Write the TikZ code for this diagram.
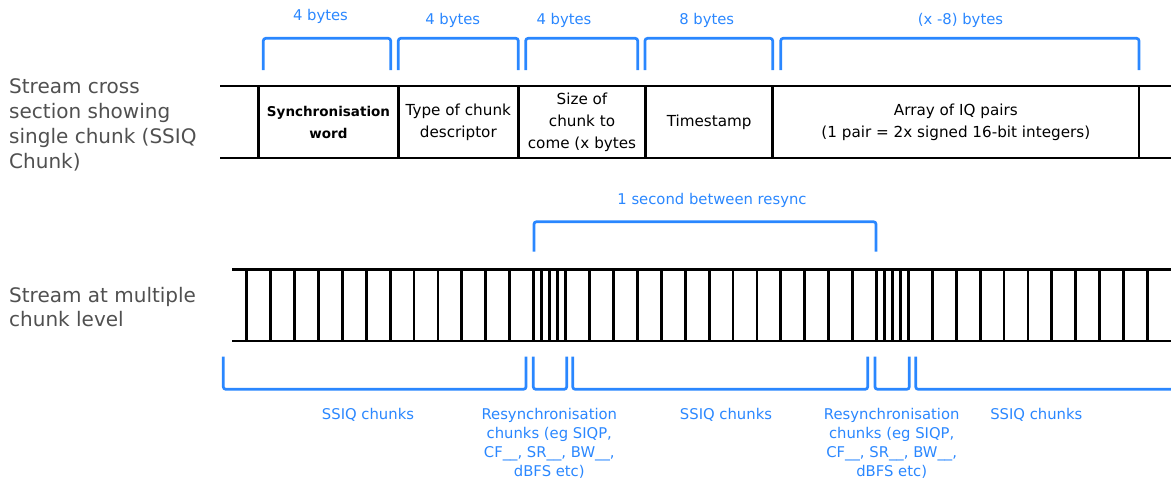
\documentclass[tikz,border=0pt]{standalone}
\usepackage{fontspec}
\setmainfont{DejaVu Sans}
\definecolor{lblue}{RGB}{42,135,255}
\definecolor{lgray}{RGB}{80,80,80}
\begin{document}
\begin{tikzpicture}[x=1pt,y=-1pt,
  field/.style={draw=black,line width=2.8pt,minimum width=#1,minimum height=72pt,inner sep=0pt,outer sep=0pt,
    font=\fontsize{15.2}{22}\selectfont,align=center,text=black},
  bar/.style={draw=black,line width=2.8pt},
  brk/.style={draw=lblue,line width=2.7pt,rounded corners=2.5pt},
  blbl/.style={text=lblue,font=\fontsize{14.8}{19}\selectfont,align=center,inner sep=0pt},
  side/.style={text=lgray,font=\fontsize{20}{25}\selectfont,align=left,anchor=west,inner sep=0pt}]
\useasboundingbox (0,0) rectangle (1171,479);

% left labels
\node[side] (lab1) at (9,125) {Stream cross\\section showing\\single chunk (SSIQ\\Chunk)};
\node[side,font=\fontsize{20}{24}\selectfont] (lab2) at (9,307) {Stream at multiple\\chunk level};

% cross section fields
\node[field=139.6pt] (sync) at (328.5,122) {\bfseries\fontsize{13.5}{18.5}\selectfont Synchronisation\\\bfseries\fontsize{13.5}{18.5}\selectfont word};
\node[field=120pt] (type) at (458.3,122) {Type of chunk\\descriptor};
\node[field=127.4pt] (size) at (582,122) {Size of\\chunk to\\come (x bytes};
\node[field=127pt] (ts) at (709.2,122) {Timestamp};
\node[field=366.3pt] (arr) at (955.85,122) {Array of IQ pairs\\(1 pair = 2x signed 16-bit integers)};
\draw[bar] (220,86) -- (sync.north west);
\draw[bar] (220,158) -- (sync.south west);
\draw[bar] (arr.north east) -- (1171,86);
\draw[bar] (arr.south east) -- (1171,158);

% top brackets
\draw[brk] (263.3,70) -- (263.3,38.3) -- (390.7,38.3) -- (390.7,70);
\draw[brk] (398.3,70) -- (398.3,38.3) -- (518.3,38.3) -- (518.3,70);
\draw[brk] (525.7,70) -- (525.7,38.3) -- (637.7,38.3) -- (637.7,70);
\draw[brk] (645,70) -- (645,38.3) -- (772.7,38.3) -- (772.7,70);
\draw[brk] (780.7,70) -- (780.7,38.3) -- (1139,38.3) -- (1139,70);
\node[blbl] (b1) at (320.5,16.7) {4 bytes};
\node[blbl] (b2) at (452.7,20) {4 bytes};
\node[blbl] (b3) at (564,20) {4 bytes};
\node[blbl] (b4) at (706.7,20) {8 bytes};
\node[blbl] (b5) at (960.5,20) {(x -8) bytes};

% resync bracket
\draw[brk] (534,251.7) -- (534,221.7) -- (876,221.7) -- (876,251.7);
\node[blbl] (sec) at (712,200) {1 second between resync};

% stream
\draw[bar] (232,269.5) -- (1171,269.5);
\draw[bar] (232,341) -- (1171,341);
\foreach \k in {0,...,12} \draw[bar] ({246.7+23.9*\k},269.5) -- ++(0,71.5);
\foreach \k in {0,...,4} \draw[bar] ({533.5+8.05*\k},269.5) -- ++(0,71.5);
\foreach \k in {1,...,13} \draw[bar] ({565.7+23.9*\k},269.5) -- ++(0,71.5);
\foreach \k in {0,...,4} \draw[bar] ({876.4+8*\k},269.5) -- ++(0,71.5);
\foreach \k in {1,...,10} \draw[bar] ({908.4+23.9*\k},269.5) -- ++(0,71.5);

% bottom brackets
\draw[brk] (223.3,356.7) -- (223.3,389.3) -- (526,389.3) -- (526,356.7);
\draw[brk] (533.3,356.7) -- (533.3,389.3) -- (566.7,389.3) -- (566.7,356.7);
\draw[brk] (572.7,356.7) -- (572.7,389.3) -- (867.7,389.3) -- (867.7,356.7);
\draw[brk] (875,356.7) -- (875,389.3) -- (909.3,389.3) -- (909.3,356.7);
\draw[brk] (915.7,356.7) -- (915.7,389.3) -- (1171,389.3);

\node[blbl] (s1) at (368,415) {SSIQ chunks};
\node[blbl] (r1) at (549.3,443.5) {Resynchronisation\\chunks (eg SIQP,\\CF\_\_, SR\_\_, BW\_\_,\\dBFS etc)};
\node[blbl] (s2) at (726,415) {SSIQ chunks};
\node[blbl] (r2) at (891.7,443.5) {Resynchronisation\\chunks (eg SIQP,\\CF\_\_, SR\_\_, BW\_\_,\\dBFS etc)};
\node[blbl] (s3) at (1036.3,415) {SSIQ chunks};
\end{tikzpicture}
\end{document}
